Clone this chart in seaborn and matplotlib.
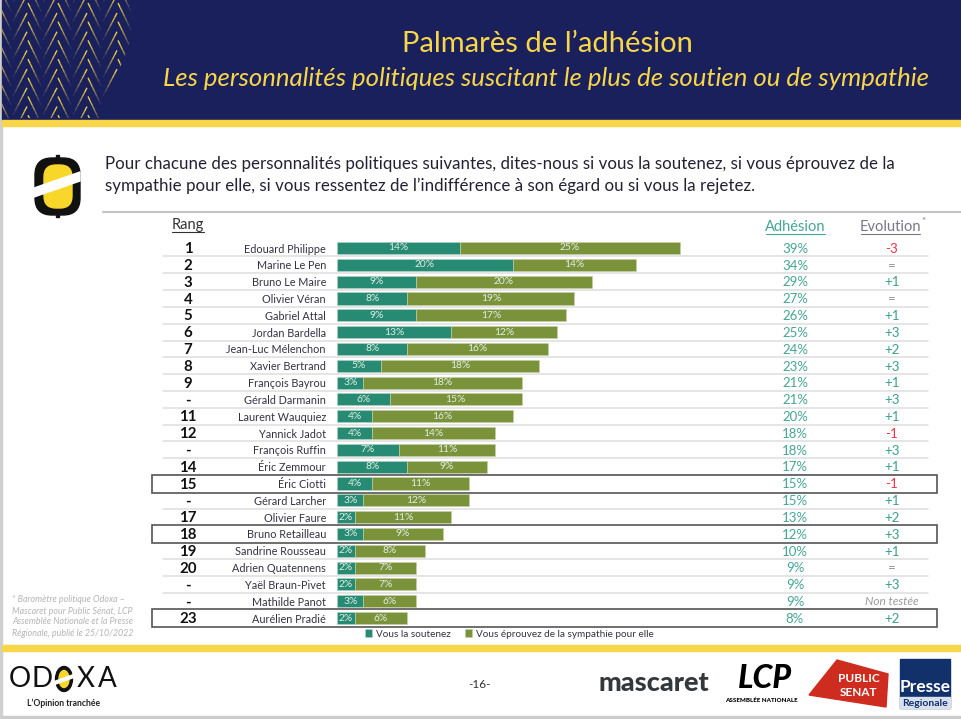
import matplotlib
matplotlib.use('agg')
import matplotlib.pyplot as plt
import pandas as pd
import seaborn as sns
from matplotlib.collections import LineCollection
from matplotlib.patches import Ellipse, FancyBboxPatch, Polygon, Rectangle

# chart data
rangs = ['1', '2', '3', '4', '5', '6', '7', '8', '9', '-', '11', '12', '-', '14', '15', '-', '17', '18', '19', '20', '-', '-', '23']
noms = ['Edouard Philippe', 'Marine Le Pen', 'Bruno Le Maire', 'Olivier Véran', 'Gabriel Attal', 'Jordan Bardella',
        'Jean-Luc Mélenchon', 'Xavier Bertrand', 'François Bayrou', 'Gérald Darmanin', 'Laurent Wauquiez',
        'Yannick Jadot', 'François Ruffin', 'Éric Zemmour', 'Éric Ciotti', 'Gérard Larcher', 'Olivier Faure',
        'Bruno Retailleau', 'Sandrine Rousseau', 'Adrien Quatennens', 'Yaël Braun-Pivet', 'Mathilde Panot',
        'Aurélien Pradié']
soutien = [14, 20, 9, 8, 9, 13, 8, 5, 3, 6, 4, 4, 7, 8, 4, 3, 2, 3, 2, 2, 2, 3, 2]
sympathie = [25, 14, 20, 19, 17, 12, 16, 18, 18, 15, 16, 14, 11, 9, 11, 12, 11, 9, 8, 7, 7, 6, 6]
adhesion = [39, 34, 29, 27, 26, 25, 24, 23, 21, 21, 20, 18, 18, 17, 15, 15, 13, 12, 10, 9, 9, 9, 8]
evolution = ['-3', '=', '+1', '=', '+1', '+3', '+2', '+3', '+1', '+3', '+1', '-1', '+3', '+1', '-1', '+1', '+2', '+3',
             '+1', '=', '+3', 'Non testée', '+2']
encadres = ['Éric Ciotti', 'Bruno Retailleau', 'Aurélien Pradié']

TEAL = '#278A72'
OLIVE = '#7A933B'
NAVY = '#19205C'
YELLOW = '#F8D648'
W, H = 961, 719
ROW_TOP, ROW_STEP = 248, 16.82

sns.set_theme(style="white")
plt.rcParams['font.family'] = ['Lato', 'DejaVu Sans']

fig = plt.figure(figsize=(W / 100, H / 100), dpi=100, facecolor='white')

# background layer in pixel coords, for the slide furniture
bg = fig.add_axes([0, 0, 1, 1], zorder=0)
bg.set_xlim(0, W)
bg.set_ylim(H, 0)
bg.axis('off')

bg.add_patch(Rectangle((0, 0), 2, H, color='#d0d0d0'))
bg.add_patch(Rectangle((2, 0), W, 120, color=NAVY))
bg.add_patch(Rectangle((2, 120), W, 6, color=YELLOW))
bg.add_patch(Rectangle((2, 645), W, 6, color=YELLOW))
bg.add_patch(Rectangle((2, 716), W, 3, color='#cccccc'))
bg.plot([103, W], [212, 212], color='#c4c4c4', lw=1.5)

# herringbone pattern of the banner, each stroke fades from its top end
segs, cols = [], []
for cx in [-2, 28, 58, 88, 118]:
    for row in range(-2, 7):
        for x0, y0, dx in [(cx, 3 + row * 18.7, 13), (cx - 1, 13 + row * 18.7, -14)]:
            for k in range(6):
                t0, t1 = k / 6, (k + 1) / 6
                segs.append([(x0 + dx * t0, y0 + 27 * t0), (x0 + dx * t1, y0 + 27 * t1)])
                cols.append((0.97, 0.84, 0.28, max(0.05, 0.95 - 0.17 * k)))
herring = LineCollection(segs, colors=cols, linewidths=1.0)
bg.add_collection(herring)
herring.set_clip_path(Polygon([(2, 0), (147, 0), (100, 118), (2, 118)], transform=bg.transData))

bg.text(547, 44, 'Palmarès de l’adhésion', color=YELLOW, fontsize=21, ha='center', va='center')
bg.text(546, 78, 'Les personnalités politiques suscitant le plus de soutien ou de sympathie', color=YELLOW,
        fontsize=18.5, style='italic', ha='center', va='center')

# question icon
bg.add_patch(FancyBboxPatch((35, 158), 45, 57, boxstyle='round,pad=0,rounding_size=17', color='#111111'))
bg.add_patch(Rectangle((55.5, 155), 3, 62, color='#111111'))
bg.add_patch(FancyBboxPatch((44, 165), 28, 43, boxstyle='round,pad=0,rounding_size=12', color='#F8D62A'))
bg.add_patch(Polygon([(34, 188), (80, 172), (80, 181), (34, 197)], color='white'))

bg.text(105, 164, 'Pour chacune des personnalités politiques suivantes, dites-nous si vous la soutenez, si vous éprouvez de la',
        color='#222233', fontsize=12.2, va='center')
bg.text(105, 186, 'sympathie pour elle, si vous ressentez de l’indifférence à son égard ou si vous la rejetez.',
        color='#222233', fontsize=12.2, va='center')

# column headers
bg.text(188, 225, 'Rang', color='#333333', fontsize=10.5, ha='center', va='center')
bg.plot([172, 204], [232, 232], color='#333333', lw=0.8)
bg.text(795, 227, 'Adhésion', color='#45A596', fontsize=10.5, ha='center', va='center')
bg.plot([766, 825], [234, 234], color='#45A596', lw=0.8)
bg.text(890, 227, 'Evolution', color='#777788', fontsize=10.5, ha='center', va='center')
bg.plot([861, 920], [234, 234], color='#777788', lw=0.8)
bg.text(923, 222, '*', color='#777788', fontsize=7, ha='center', va='center')

# row separators
for i in range(len(noms) - 1):
    y = ROW_TOP + (i + 0.5) * ROW_STEP
    bg.plot([163, 928], [y, y], color='#dedede', lw=1.1)

# white cells under the boxed rows, then the boxes
for nom in encadres:
    y = ROW_TOP + noms.index(nom) * ROW_STEP
    bg.add_patch(Rectangle((152, y - 8.8), 785, 18, facecolor='white', edgecolor='#555555', lw=1.2, zorder=3))

# bars
df = pd.DataFrame({'nom': noms, 'soutien': soutien, 'sympathie': sympathie})
ax_left = 337
px_per_pct = 343 / 39
ax_w = W - ax_left - 40
top_px = ROW_TOP - ROW_STEP / 2
height_px = ROW_STEP * len(noms)
ax = fig.add_axes([ax_left / W, 1 - (top_px + height_px) / H, ax_w / W, height_px / H], zorder=2)
ax.patch.set_alpha(0)

sns.barplot(data=df, y='nom', x='soutien', color=TEAL, saturation=1, width=0.72, ax=ax, label='Vous la soutenez',
            edgecolor='#b5d3c8', linewidth=0.4)
sns.barplot(data=df, y='nom', x='sympathie', left=df['soutien'], color=OLIVE, saturation=1, width=0.72, ax=ax,
            label='Vous éprouvez de la sympathie pour elle', edgecolor='#c5d2a5', linewidth=0.4)
ax.set_xlim(0, ax_w / px_per_pct)
ax.set_ylim(len(noms) - 0.5, -0.5)
ax.set_xlabel('')
ax.set_ylabel('')
ax.set_xticks([])
sns.despine(ax=ax, left=True, bottom=True)
ax.tick_params(axis='y', length=0, pad=8)
for lab in ax.get_yticklabels():
    lab.set_fontsize(7.8)
    lab.set_color('#333344')
for cont, vals in zip(ax.containers, [soutien, sympathie]):
    ax.bar_label(cont, labels=[f'{v}%' for v in vals], label_type='center', color='#dfeee4', fontsize=7.4)

leg = ax.legend(loc='center', bbox_to_anchor=(509 / W, 1 - 634 / H), bbox_transform=fig.transFigure, ncol=2,
                frameon=False, fontsize=7.2, handlelength=0.75, handleheight=0.75, handletextpad=0.35, columnspacing=1.4,
                labelcolor='#333344')

# text columns, in a layer on top
fg = fig.add_axes([0, 0, 1, 1], zorder=3)
fg.set_xlim(0, W)
fg.set_ylim(H, 0)
fg.axis('off')
for i in range(len(noms)):
    y = ROW_TOP + i * ROW_STEP
    fg.text(188, y + 1.2, rangs[i], color='#111111', fontsize=10.8, fontweight='bold', ha='center', va='center')
    fg.text(795, y + 0.8, f'{adhesion[i]}%', color='#45A596', fontsize=9.5, ha='center', va='center')
    ev = evolution[i]
    if ev == 'Non testée':
        fg.text(892, y, ev, color='#999999', fontsize=8.6, style='italic', ha='center', va='center')
    else:
        col = '#F0314A' if ev.startswith('-') else ('#999999' if ev == '=' else '#3AA08E')
        fg.text(892, y + 0.8, ev, color=col, fontsize=9.5, ha='center', va='center')

for i, line in enumerate(['* Baromètre politique Odoxa –', 'Mascaret pour Public Sénat, LCP',
                          'Assemblée Nationale et la Presse', 'Régionale, publié le 25/10/2022']):
    fg.text(12, 600 + i * 11, line, color='#b5b5b5', fontsize=6.4, style='italic', va='center')

# footer logos
for letter, lx in [('O', 20), ('D', 42), ('X', 86), ('A', 107)]:
    fg.text(lx, 679, letter, color='#111111', fontsize=20, ha='center', va='center')
fg.add_patch(Ellipse((64, 679), 17, 25, color='#111111'))
fg.add_patch(Ellipse((64, 679), 10, 17, color='#F8D62A'))
fg.add_patch(Polygon([(53, 682), (75, 674), (75, 677), (53, 685)], color='white'))
fg.text(64, 703, 'L’Opinion tranchée', color='#222222', fontsize=6.2, ha='center', va='center', fontweight='bold')
fg.text(480, 684, '-16-', color='#333333', fontsize=8.5, ha='center', va='center')
fg.text(654, 683, 'mascaret', color='#33383C', fontsize=19.5, fontweight='black', ha='center', va='center')
fg.text(765, 678, 'LCP', color='black', fontsize=23, fontweight='black', style='italic', ha='center', va='center')
fg.text(761, 700, 'ASSEMBLÉE NATIONALE', color='black', fontsize=4.5, fontweight='black', ha='center', va='center')
fg.add_patch(Polygon([(809, 695), (837, 660), (888, 674), (886, 707)], color='#CE2C1E'))
fg.text(859, 679, 'PUBLIC', color='white', fontsize=8.5, fontweight='bold', ha='center', va='center')
fg.text(859, 693, 'SENAT', color='white', fontsize=8.5, fontweight='bold', ha='center', va='center')
fg.add_patch(Rectangle((900, 659), 50, 49, color='#12306A'))
fg.add_patch(Rectangle((900, 697), 50, 11, color='#d8e0ee'))
fg.text(925, 687, 'Presse', color='white', fontsize=12.5, fontweight='bold', ha='center', va='center')
fg.text(925, 703, 'Regionale', color='#12306A', fontsize=7.5, fontweight='bold', ha='center', va='center')

fig.savefig('out.png', dpi=100)
